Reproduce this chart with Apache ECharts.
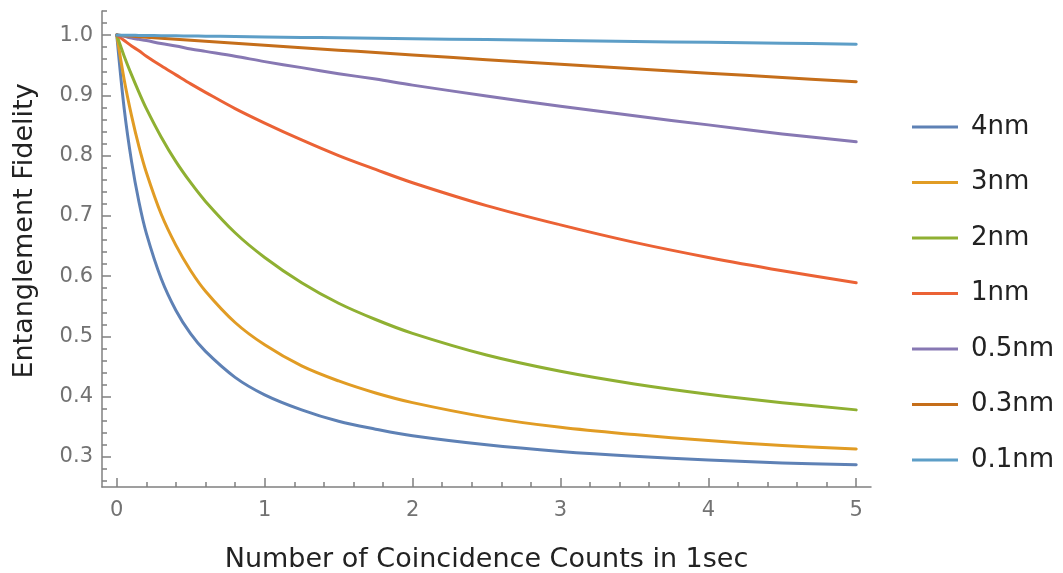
<!DOCTYPE html>
<html>
<head>
<meta charset="utf-8">
<script src="https://cdn.jsdelivr.net/npm/echarts@6/dist/echarts.min.js"></script>
<style>
  html, body { margin: 0; padding: 0; background: #ffffff; }
  #chart { width: 1063px; height: 573px; }
</style>
</head>
<body>
<div id="chart"></div>
<script>
// Coincidence counts per second (x samples shared by every curve)
const countsX = [0, 0.05, 0.1, 0.15, 0.2, 0.3, 0.4, 0.5, 0.6, 0.8, 1, 1.25, 1.5, 1.75, 2, 2.5, 3, 3.5, 4, 4.5, 5];

// Entanglement fidelity for each filter bandwidth
const fidelity4nm  = [1.000, 0.878, 0.790, 0.723, 0.671, 0.596, 0.543, 0.504, 0.475, 0.432, 0.403, 0.378, 0.359, 0.346, 0.335, 0.320, 0.309, 0.301, 0.295, 0.290, 0.287];
const fidelity3nm  = [1.000, 0.926, 0.866, 0.815, 0.772, 0.703, 0.651, 0.609, 0.575, 0.523, 0.486, 0.451, 0.426, 0.406, 0.390, 0.366, 0.349, 0.337, 0.327, 0.319, 0.313];
const fidelity2nm  = [1.000, 0.965, 0.934, 0.905, 0.878, 0.831, 0.790, 0.755, 0.724, 0.672, 0.631, 0.589, 0.555, 0.528, 0.505, 0.469, 0.442, 0.421, 0.404, 0.390, 0.378];
const fidelity1nm  = [1.000, 0.991, 0.982, 0.974, 0.965, 0.949, 0.934, 0.919, 0.905, 0.878, 0.854, 0.826, 0.800, 0.777, 0.755, 0.717, 0.685, 0.656, 0.631, 0.609, 0.589];
const fidelity05nm = [1.000, 0.998, 0.995, 0.993, 0.991, 0.986, 0.982, 0.977, 0.973, 0.965, 0.956, 0.946, 0.936, 0.927, 0.917, 0.899, 0.882, 0.866, 0.851, 0.836, 0.823];
const fidelity03nm = [1.000, 0.9991, 0.9983, 0.9974, 0.9966, 0.9949, 0.9932, 0.9915, 0.9898, 0.9864, 0.9831, 0.979, 0.975, 0.971, 0.967, 0.9592, 0.9516, 0.9441, 0.9368, 0.9297, 0.9226];
const fidelity01nm = [1.000, 0.9998, 0.9997, 0.9995, 0.9994, 0.9991, 0.9988, 0.9985, 0.9982, 0.9976, 0.997, 0.9962, 0.9955, 0.9947, 0.994, 0.9925, 0.991, 0.9895, 0.988, 0.9865, 0.985];

const bandwidthNames = ['4nm', '3nm', '2nm', '1nm', '0.5nm', '0.3nm', '0.1nm'];
const fidelitySets = [fidelity4nm, fidelity3nm, fidelity2nm, fidelity1nm, fidelity05nm, fidelity03nm, fidelity01nm];
const lineColors = ['#5E81B5', '#E19C24', '#8FB032', '#EB6235', '#8778B3', '#C56E1A', '#5D9EC7'];

// Tick labels
const xTickValues = [0, 1, 2, 3, 4, 5];
const yTickValues = [0.3, 0.4, 0.5, 0.6, 0.7, 0.8, 0.9, 1.0];

// Minor tick positions
const xMinorTicks = [];
for (let i = 0; i <= 25; i++) xMinorTicks.push(+(i * 0.2).toFixed(2));
const yMinorTicks = [];
for (let i = 13; i <= 52; i++) yMinorTicks.push(+(i * 0.02).toFixed(2));

const FONT = 'DejaVu Sans';
const AXIS_GRAY = '#808080';
const LABEL_GRAY = '#727272';

const X_MIN = -0.1, X_MAX = 5.1, Y_MIN = 0.25, Y_MAX = 1.04;

const series = fidelitySets.map((vals, s) => ({
  name: bandwidthNames[s],
  type: 'line',
  xAxisIndex: 0,
  yAxisIndex: 0,
  data: countsX.map((x, i) => [x, vals[i]]),
  showSymbol: false,
  symbol: 'none',
  smooth: 0.35,
  lineStyle: { width: 3, color: lineColors[s], cap: 'round', join: 'round' },
  itemStyle: { color: lineColors[s] },
  z: 2 + s
}));

const chart = echarts.init(document.getElementById('chart'), null, { renderer: 'canvas' });
chart.setOption({
  animation: false,
  backgroundColor: '#ffffff',
  grid: { left: 102, right: 192, top: 11, bottom: 86, containLabel: false, outerBoundsMode: 'none' },
  legend: {
    orient: 'vertical',
    left: 907,
    top: 108,
    itemWidth: 46,
    itemHeight: 14,
    itemGap: 27.5,
    icon: 'path://M0,5.5 L46,5.5 L46,8.5 L0,8.5 Z',
    data: bandwidthNames,
    textStyle: { fontFamily: FONT, fontSize: 26, color: '#222', lineHeight: 28, padding: [0, 0, 0, 8] }
  },
  xAxis: [
    {
      type: 'value', min: X_MIN, max: X_MAX, position: 'bottom',
      name: 'Number of Coincidence Counts in 1sec',
      nameLocation: 'middle', nameGap: 59,
      nameTextStyle: { fontFamily: FONT, fontSize: 27, color: '#222' },
      axisLine: { show: true, onZero: false, lineStyle: { color: AXIS_GRAY, width: 1.5 } },
      axisTick: { show: true, inside: true, length: 9, customValues: xTickValues, lineStyle: { color: AXIS_GRAY, width: 1.5 } },
      axisLabel: { show: true, customValues: xTickValues, margin: 13, fontFamily: FONT, fontSize: 21, color: LABEL_GRAY },
      splitLine: { show: false }
    },
    {
      type: 'value', min: X_MIN, max: X_MAX, position: 'bottom',
      axisLine: { show: false, onZero: false },
      axisTick: { show: true, inside: true, length: 5, customValues: xMinorTicks, lineStyle: { color: AXIS_GRAY, width: 1.5 } },
      axisLabel: { show: false },
      splitLine: { show: false }
    }
  ],
  yAxis: [
    {
      type: 'value', min: Y_MIN, max: Y_MAX, position: 'left',
      name: 'Entanglement Fidelity',
      nameLocation: 'middle', nameGap: 64, nameRotate: 90,
      nameTextStyle: { fontFamily: FONT, fontSize: 27, color: '#222', padding: [0, 0, 0, 36] },
      axisLine: { show: true, onZero: false, lineStyle: { color: AXIS_GRAY, width: 1.5 } },
      axisTick: { show: true, inside: true, length: 9, customValues: yTickValues, lineStyle: { color: AXIS_GRAY, width: 1.5 } },
      axisLabel: { show: true, customValues: yTickValues, margin: 9, fontFamily: FONT, fontSize: 21, color: LABEL_GRAY,
        formatter: v => v.toFixed(1) },
      splitLine: { show: false }
    },
    {
      type: 'value', min: Y_MIN, max: Y_MAX, position: 'left',
      axisLine: { show: false, onZero: false },
      axisTick: { show: true, inside: true, length: 5, customValues: yMinorTicks, lineStyle: { color: AXIS_GRAY, width: 1.5 } },
      axisLabel: { show: false },
      splitLine: { show: false }
    }
  ],
  series: series
});
</script>
</body>
</html>
